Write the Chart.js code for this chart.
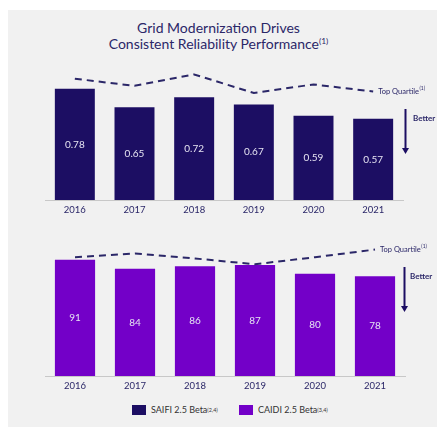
<!DOCTYPE html>
<html>
<head>
<meta charset="utf-8">
<script src="https://cdn.jsdelivr.net/npm/chart.js@4"></script>
<style>
    body { margin: 0; width: 437px; height: 428px; background: #fff; position: relative; overflow: hidden; font-family: Lato, sans-serif; }
    #panel { position: absolute; left: 8px; top: 10px; width: 429px; height: 417px; background: #f1f1f1; }
    #title { position: absolute; top: 20px; left: 0; width: 437px; text-align: center; color: #2b2768; font-size: 14px; line-height: 16px; }
    #title sup, .legend sup { font-size: 0.6em; vertical-align: 0.6em; line-height: 0; }
    .wrap { position: absolute; left: 0; width: 437px; }
    #topWrap { top: 50px; height: 170px; }
    #bottomWrap { top: 225px; height: 171px; }
    .legend { position: absolute; top: 404px; font-size: 9px; color: #333; display: flex; align-items: center; }
    .legend span.sw { display: inline-block; width: 14px; height: 10px; margin-right: 5px; }
</style>
</head>
<body>
<div id="panel"></div>
<div id="title">Grid Modernization Drives<br>Consistent Reliability Performance<sup>(1)</sup></div>
<div class="wrap" id="topWrap"><canvas id="saifiChart"></canvas></div>
<div class="wrap" id="bottomWrap"><canvas id="caidiChart"></canvas></div>
<div class="legend" style="left:132px"><span class="sw" style="background:#1c0e63"></span>SAIFI 2.5 Beta<sup>(2,4)</sup></div>
<div class="legend" style="left:239px"><span class="sw" style="background:#7300c8"></span>CAIDI 2.5 Beta<sup>(3,4)</sup></div>
<script>
const years = ['2016', '2017', '2018', '2019', '2020', '2021'];
const saifi = [0.78, 0.65, 0.72, 0.67, 0.59, 0.57];
const saifiTopQuartile = [0.85, 0.80, 0.88, 0.75, 0.81, 0.76];
const caidi = [91, 84, 86, 87, 80, 78];
const caidiTopQuartile = [93, 96, 92, 87.5, 93, 99];

const navy = '#1c0e63';
const purple = '#7300c8';
const textColor = '#2b2768';

// values inside bars, "Top Quartile" label and the "Better" arrow
const notes = {
    id: 'notes',
    afterDatasetsDraw(chart, args, opts) {
        const ctx = chart.ctx;
        ctx.save();
        const bars = chart.getDatasetMeta(1).data;
        const values = chart.data.datasets[1].data;
        ctx.font = '10px Lato';
        ctx.fillStyle = '#e6e4f2';
        ctx.textAlign = 'center';
        ctx.textBaseline = 'middle';
        bars.forEach((bar, i) => {
            ctx.fillText(opts.fmt(values[i]), bar.x, (bar.y + bar.base) / 2);
        });

        const pts = chart.getDatasetMeta(0).data;
        const last = pts[pts.length - 1];
        ctx.fillStyle = textColor;
        ctx.textAlign = 'left';
        ctx.font = '7.5px Lato';
        ctx.fillText('Top Quartile', last.x + 5, last.y);
        const w = ctx.measureText('Top Quartile').width;
        ctx.font = '5px Lato';
        ctx.fillText('(1)', last.x + 5 + w + 0.5, last.y - 3);

        // arrow
        ctx.strokeStyle = navy;
        ctx.fillStyle = navy;
        ctx.lineWidth = 2;
        ctx.beginPath();
        ctx.moveTo(opts.arrowX, opts.arrowTop);
        ctx.lineTo(opts.arrowX, opts.arrowBottom - 5);
        ctx.stroke();
        ctx.beginPath();
        ctx.moveTo(opts.arrowX - 3.5, opts.arrowBottom - 6);
        ctx.lineTo(opts.arrowX + 3.5, opts.arrowBottom - 6);
        ctx.lineTo(opts.arrowX, opts.arrowBottom);
        ctx.closePath();
        ctx.fill();

        ctx.font = 'bold 8px Lato';
        ctx.fillStyle = textColor;
        ctx.fillText('Better', opts.betterX, opts.betterY);
        ctx.restore();
    }
};

function makeChart(id, values, quartile, color, yMax, padding, note) {
    return new Chart(document.getElementById(id), {
        type: 'bar',
        data: {
            labels: years,
            datasets: [
                {
                    type: 'line',
                    data: quartile,
                    borderColor: textColor,
                    borderWidth: 2,
                    borderDash: [7, 5],
                    pointRadius: 0,
                    tension: 0,
                    order: 0,
                },
                {
                    data: values,
                    backgroundColor: color,
                    categoryPercentage: 1,
                    barPercentage: 0.67,
                    order: 1,
                }
            ]
        },
        options: {
            responsive: true,
            maintainAspectRatio: false,
            animation: false,
            events: [],
            layout: { padding: padding },
            plugins: {
                legend: { display: false },
                tooltip: { enabled: false },
                notes: note,
            },
            scales: {
                y: { display: false, min: 0, max: yMax },
                x: {
                    grid: { display: false, drawTicks: false },
                    border: { display: true, color: '#c8c8c8', width: 1 },
                    ticks: { color: textColor, font: { family: 'Lato', size: 9.5 }, padding: 4 },
                    afterFit: function (axis) { axis.height = 20; }
                }
            }
        },
        plugins: [notes]
    });
}

makeChart('saifiChart', saifi, saifiTopQuartile, navy, 1.0,
    { left: 45, right: 34, top: 7.3, bottom: 0 },
    { fmt: v => v.toFixed(2), arrowX: 405.5, arrowTop: 59, arrowBottom: 104, betterX: 413, betterY: 68 });

makeChart('caidiChart', caidi, caidiTopQuartile, purple, 110,
    { left: 45, right: 32, top: 10.5, bottom: 0 },
    { fmt: v => String(v), arrowX: 404.5, arrowTop: 42, arrowBottom: 87, betterX: 410, betterY: 51 });
</script>
</body>
</html>
